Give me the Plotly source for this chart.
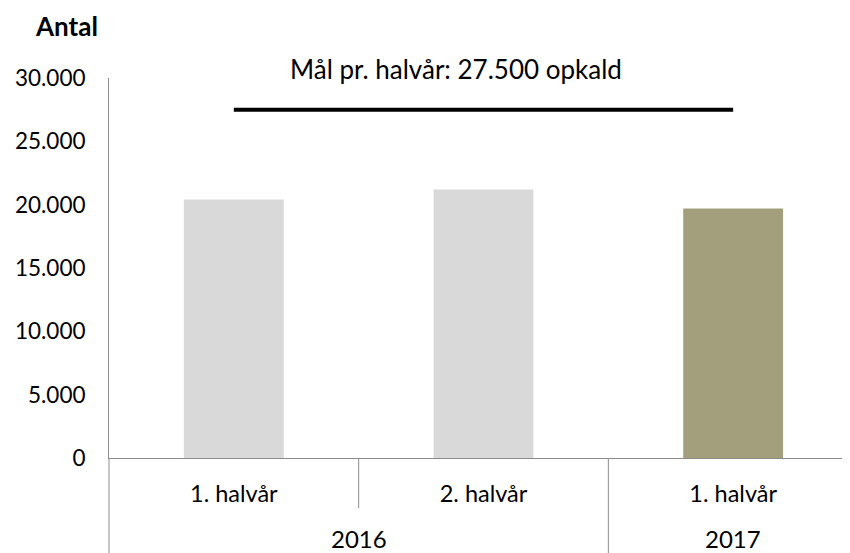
import plotly.graph_objects as go

years = ["2016", "2016", "2017"]
halves = ["1. halvår", "2. halvår", "1. halvår"]
values = [20400, 21200, 19700]
bar_colors = ["#D9D9D9", "#D9D9D9", "#A39F7D"]
goal = 27500
goal_label = "Mål pr. halvår: 27.500 opkald"
y_title = "Antal"
y_ticks = [0, 5000, 10000, 15000, 20000, 25000, 30000]

FONT = "Lato"
W, H = 850, 553
OFF = 8  # page body margin offset
# target positions in the window
AX_L, AX_T, AX_B, AX_R = 109, 78, 458, 855
ML = AX_L - OFF
MT = AX_T - OFF
MB = H - (AX_B - OFF)
MR = W - (AX_R - OFF)
xr = [-0.5, 2.488]
plot_w = W - ML - MR
plot_h = H - MT - MB
idx = list(range(len(halves)))

fig = go.Figure()
fig.add_trace(go.Bar(
    x=idx, y=values, marker=dict(color=bar_colors, line=dict(width=0)),
    width=0.4, showlegend=False, hoverinfo="y"))
fig.add_trace(go.Scatter(
    x=[idx[0], idx[-1]], y=[goal, goal],
    mode="lines", line=dict(color="black", width=4), showlegend=False))

GRAY = "#8C8C8C"
bottom_win = 553
shapes = []
for i in range(1, len(halves)):
    full = years[i] != years[i - 1]
    depth = (bottom_win - AX_B) if full else 50
    shapes.append(dict(type="line", xref="x", yref="paper", x0=i - 0.5, x1=i - 0.5,
                       y0=0, y1=-depth / plot_h, line=dict(color=GRAY, width=1)))
shapes.append(dict(type="line", xref="paper", yref="paper", x0=0, x1=0,
                   y0=0, y1=-(bottom_win - AX_B) / plot_h, line=dict(color=GRAY, width=1)))

def ywin(y):
    # window pixel y -> paper coordinate
    return (AX_B - y) / plot_h

annotations = [
    dict(text="<b>" + y_title + "</b>", xref="paper", yref="paper",
         x=(33 - AX_L) / plot_w, y=ywin(26), xanchor="left", yanchor="middle",
         showarrow=False, font=dict(size=26, family=FONT)),
    dict(text=goal_label, xref="x", yref="paper",
         x=(idx[0] + idx[-1]) / 2 - 0.11, y=ywin(69), xanchor="center", yanchor="middle",
         showarrow=False, font=dict(size=26, family=FONT)),
]
groups = {}
for i, yv in enumerate(years):
    groups.setdefault(yv, []).append(i)
for yv, ids in groups.items():
    annotations.append(dict(text=yv, xref="x", yref="paper", x=sum(ids) / len(ids),
                            y=ywin(538), xanchor="center", yanchor="middle",
                            showarrow=False, font=dict(size=24, family=FONT)))

fig.update_layout(
    width=W, height=H, margin=dict(l=ML, r=MR, t=MT, b=MB),
    paper_bgcolor="white", plot_bgcolor="white",
    separators=",.",
    font=dict(family=FONT, size=22, color="black"),
    shapes=shapes, annotations=annotations,
)
fig.update_xaxes(range=xr, tickvals=idx, ticktext=halves, showline=True, linecolor=GRAY,
                 linewidth=1, showgrid=False, zeroline=False, ticks="", automargin=False,
                 ticklabelstandoff=15, tickfont=dict(size=23.5, family=FONT))
fig.update_yaxes(range=[0, 30000], tickvals=y_ticks, tickformat=",d", showgrid=False,
                 zeroline=False, showline=True, linecolor=GRAY, linewidth=1, automargin=False,
                 ticks="", ticklabelstandoff=18, tickfont=dict(size=22.5, family=FONT))

fig.write_html("out.html")
